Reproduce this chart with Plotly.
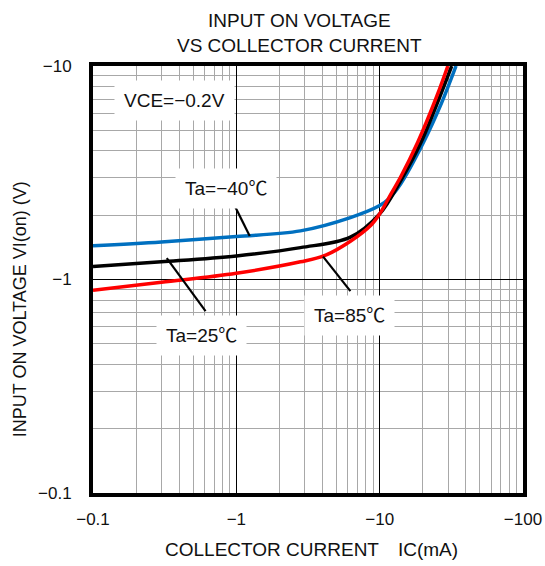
import math

import plotly.graph_objects as go

FONT = "Liberation Sans, Arial, Noto Sans CJK JP, sans-serif"

# collector current |IC| (mA) and input on voltage |VI(on)| (V)
IC_M40 = [0.1, 0.3, 1, 2.8, 6.25, 10, 11.6, 14, 20.2, 27, 34.1]
VI_M40 = [1.44, 1.50, 1.59, 1.69, 1.95, 2.22, 2.39, 2.8, 4.38, 6.7, 10]

IC_25 = [0.1, 0.3, 1, 2.8, 6.25, 10, 14, 19.4, 25, 31.8]
VI_25 = [1.15, 1.21, 1.29, 1.41, 1.58, 2.03, 2.9, 4.38, 6.6, 10]

IC_85 = [0.1, 0.3, 1, 2.8, 4.2, 6.25, 8.65, 10, 12, 14, 18.4, 25, 29.9]
VI_85 = [0.89, 0.97, 1.07, 1.21, 1.30, 1.51, 1.79, 2.03, 2.52, 3.02, 4.38, 7.2, 10]

X_TICKS = [0.1, 1, 10, 100]
X_LABELS = ["\u22120.1", "\u22121", "\u221210", "\u2212100"]
Y_TICKS = [0.1, 1, 10]
Y_LABELS = ["\u22120.1", "\u22121", "\u221210"]

fig = go.Figure()
for x, y, color in [(IC_M40, VI_M40, "#0070C0"), (IC_25, VI_25, "#000000"), (IC_85, VI_85, "#FF0000")]:
    fig.add_trace(go.Scatter(x=x, y=y, mode="lines", line=dict(color=color, width=3.5, shape="spline"),
                             showlegend=False, hoverinfo="skip"))

# leader lines from labels to curves
leaders = [((0.96, 2.26), (1.24, 1.60)), ((0.327, 1.26), (0.61, 0.711)), ((4.03, 1.28), (6.25, 0.882))]
for (x0, y0), (x1, y1) in leaders:
    fig.add_shape(type="line", xref="x", yref="y", x0=x0, y0=y0, x1=x1, y1=y1,
                  line=dict(color="black", width=2.2))

labels = [("VCE=\u22120.2V", 0.37, 6.9), ("Ta=\u221240\u2103", 0.85, 2.66), ("Ta=25\u2103", 0.573, 0.548),
          ("Ta=85\u2103", 6.15, 0.68)]
for text, x, y in labels:
    fig.add_annotation(x=math.log10(x), y=math.log10(y), xref="x", yref="y", text=text, showarrow=False,
                       bgcolor="white", borderpad=9, font=dict(size=19, color="#111111"))

grid_minor = dict(dtick="D1", showgrid=True, gridcolor="#A8A8A8", gridwidth=1, ticks="")
fig.update_xaxes(type="log", range=[-1, 2], tickmode="array", tickvals=X_TICKS, ticktext=X_LABELS,
                 showgrid=True, gridcolor="black", gridwidth=1, minor=grid_minor,
                 showline=True, linecolor="black", linewidth=4, mirror=True, ticks="",
                 tickfont=dict(size=17), zeroline=False, automargin=False, ticklabelstandoff=8)
fig.update_yaxes(type="log", range=[-1, 1], tickmode="array", tickvals=Y_TICKS, ticktext=Y_LABELS,
                 showgrid=True, gridcolor="black", gridwidth=1, minor=grid_minor,
                 showline=True, linecolor="black", linewidth=4, mirror=True, ticks="",
                 tickfont=dict(size=17), zeroline=False, automargin=False, ticklabelstandoff=14)

fig.add_annotation(text="INPUT ON VOLTAGE<br>VS COLLECTOR CURRENT", xref="paper", yref="paper", x=0.48,
                   y=1.077, showarrow=False, font=dict(size=19), yanchor="middle")
fig.add_annotation(text="COLLECTOR CURRENT\u2002\u2002IC(mA)", xref="paper", yref="paper", x=0.507,
                   y=-0.133, showarrow=False, font=dict(size=19), yanchor="middle")
fig.add_annotation(text="INPUT ON VOLTAGE VI(on) (V)", xref="paper", yref="paper", x=-0.17, y=0.43,
                   showarrow=False, font=dict(size=18), textangle=-90, xanchor="center", yanchor="middle")

fig.update_layout(
    width=545, height=566, autosize=False,
    paper_bgcolor="white", plot_bgcolor="white",
    font=dict(family=FONT, color="#111111"),
    margin=dict(l=93, r=22, t=66, b=73),
)

fig.write_html("out.html", config={"displayModeBar": False},
               post_script="document.body.style.margin = '0px';")
